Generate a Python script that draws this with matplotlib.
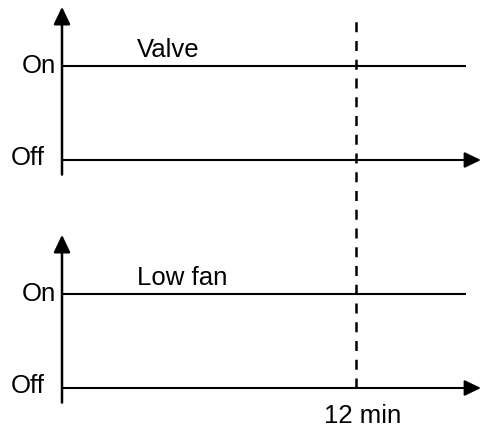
import matplotlib
matplotlib.use("Agg")
import matplotlib.pyplot as plt

# ---- data ----
panels = ["Valve", "Low fan"]
state_labels = ["Off", "On"]
time_range = [0, 16.5]          # minutes, extent of the "On" level line
valve_state = [1, 1]
fan_state = [1, 1]
marker_time = 12                # minutes
marker_label = "12 min"
axis_end_time = 17.1            # end of the time arrow

plt.rcParams['font.family'] = ['Liberation Sans', 'DejaVu Sans']

W, H = 482, 429
fig = plt.figure(figsize=(W / 100, H / 100), dpi=100)
ax = fig.add_axes([0, 0, 1, 1])
ax.set_axis_off()

px_per_min = 24.5
px_per_level = 94.0
ax.set_xlim(-62 / px_per_min, (W - 62) / px_per_min)
ax.set_ylim(-(H - 388) / px_per_level, 388 / px_per_level)

panel_offset = [228 / px_per_level, 0.0]   # baseline of each panel (levels)
states = [valve_state, fan_state]

arrow_v = dict(arrowstyle='-|>,head_length=1.05,head_width=0.5', mutation_scale=10,
               lw=1.8, color='black', shrinkA=0, shrinkB=0)
arrow_h = dict(arrowstyle='-|>,head_length=1.0,head_width=0.48', mutation_scale=10,
               lw=1.5, color='black', shrinkA=0, shrinkB=0)

fs = 18.5
for name, st, off in zip(panels, states, panel_offset):
    # vertical axis with arrow
    ax.annotate('', xy=(0, off + 1.63), xytext=(0, off - 0.155), arrowprops=arrow_v)
    # time axis (Off level) with arrow
    ax.annotate('', xy=(axis_end_time, off), xytext=(0, off), arrowprops=arrow_h)
    # On level
    ax.plot(time_range, [off + s for s in st], color='black', lw=1.5, solid_capstyle='butt')
    # labels
    ax.annotate(state_labels[1], xy=(0, off + 1), xytext=(-6, -7), textcoords='offset pixels',
                ha='right', va='baseline', fontsize=fs)
    ax.annotate(state_labels[0], xy=(0, off), xytext=(-17, -5), textcoords='offset pixels',
                ha='right', va='baseline', fontsize=fs)
    ax.annotate(name, xy=(0, off + 1), xytext=(75, 9), textcoords='offset pixels',
                ha='left', va='baseline', fontsize=fs)

# dashed marker line
ax.plot([marker_time, marker_time], [0, panel_offset[0] + 1.49], color='black', lw=1.8,
        linestyle=(0, (4.0, 3.5)), dash_capstyle='butt')
ax.annotate(marker_label, xy=(marker_time, 0), xytext=(7, -35), textcoords='offset pixels',
            ha='center', va='baseline', fontsize=fs)

fig.savefig("out.png", dpi=100)
